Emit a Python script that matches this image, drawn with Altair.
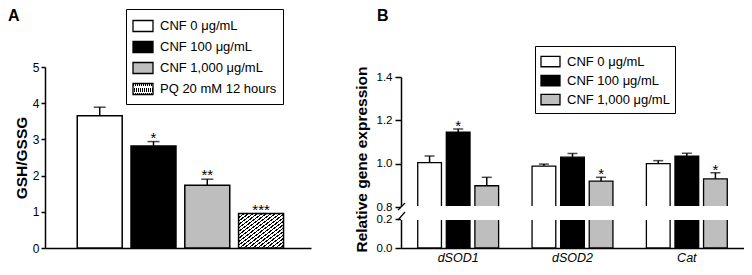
import altair as alt
import pandas as pd

# ---------------- Panel A data ----------------
A_groups = ["CNF 0 μg/mL", "CNF 100 μg/mL", "CNF 1,000 μg/mL", "PQ 20 mM 12 hours"]
A_values = [3.65, 2.82, 1.73, 0.95]
A_errors = [0.24, 0.12, 0.17, 0.0]
A_stars = ["", "*", "**", "***"]
A_yticks = [0, 1, 2, 3, 4, 5]

# ---------------- Panel B data ----------------
B_genes = ["dSOD1", "dSOD2", "Cat"]
B_groups = ["CNF 0 μg/mL", "CNF 100 μg/mL", "CNF 1,000 μg/mL"]
B_dSOD1 = [1.005, 1.145, 0.898]
B_dSOD2 = [0.989, 1.030, 0.919]
B_Cat = [1.000, 1.035, 0.930]
B_dSOD1_err = [0.030, 0.015, 0.039]
B_dSOD2_err = [0.009, 0.017, 0.018]
B_Cat_err = [0.014, 0.013, 0.028]
B_dSOD1_stars = ["", "*", ""]
B_dSOD2_stars = ["", "", "*"]
B_Cat_stars = ["", "", "*"]
B_upper_ticks = [0.8, 1.0, 1.2, 1.4]
B_lower_ticks = [0.0, 0.2]

FONT = "Liberation Sans"
WA, WB, H = 266, 343, 181

# hatch fill (diagonal stripes) as a linear gradient
N = 20
stop_parts = []
for i in range(N):
    a, b, c = i / N, (i + 0.38) / N, (i + 1) / N
    for col, off in (("#000000", a), ("#000000", b), ("#ffffff", b), ("#ffffff", c)):
        stop_parts.append("{offset:%.4f,color:'%s'}" % (off, col))
hatch_expr = "{gradient:'linear',x1:0,y1:0,x2:1,y2:1,stops:[" + ",".join(stop_parts) + "]}"

legend_common = dict(
    title=None, orient="none", symbolType="M-1,-0.55H1V0.55H-1Z",
    symbolStrokeColor="black", symbolStrokeWidth=1.3, symbolOpacity=1,
    labelFont=FONT, labelFontSize=13, labelColor="black", labelOffset=6,
    labelLimit=300, strokeColor="black", fillColor="white",
)

# ---------------- Panel A ----------------
dfA = pd.DataFrame({"group": A_groups, "value": A_values, "err": A_errors, "star": A_stars})
dfA["top"] = dfA["value"] + dfA["err"]

xA = alt.X("group:N", sort=A_groups, title=None,
           scale=alt.Scale(paddingInner=0.164, paddingOuter=0.555, align=0.54),
           axis=alt.Axis(labels=False, ticks=False, domainColor="black", domainWidth=1.5))
yA_scale = alt.Scale(domain=[0, 5])
yA_axis = alt.Axis(values=A_yticks, format="d", title="GSH/GSSG", tickSize=4,
                   labelPadding=2, titlePadding=3, labelFontSize=12,
                   titleFontSize=15.5, titleFontWeight="bold")

fillA = alt.Fill("group:N", sort=A_groups,
                 scale=alt.Scale(domain=A_groups,
                                 range=["#ffffff", "#000000", "#bebebe", {"expr": hatch_expr}]),
                 legend=alt.Legend(legendX=81, legendY=-58, symbolSize=400, padding=6,
                                   rowPadding=1, **legend_common))

baseA = alt.Chart(dfA)
barsA = baseA.mark_bar(stroke="black", strokeWidth=1.5).encode(
    x=xA, y=alt.Y("value:Q", scale=yA_scale, axis=yA_axis), fill=fillA)
errA = baseA.mark_rule(color="black", strokeWidth=1.5).encode(
    x=xA, y=alt.Y("value:Q", scale=yA_scale, axis=yA_axis), y2="top:Q")
capA = baseA.mark_tick(color="black", thickness=1.5, size=12).encode(
    x=xA, y=alt.Y("top:Q", scale=yA_scale, axis=yA_axis))
starA = baseA.mark_text(font=FONT, fontSize=15, baseline="alphabetic", dy=1, color="black").encode(
    x=xA, y=alt.Y("top:Q", scale=yA_scale, axis=yA_axis), text="star:N")
labelA = alt.Chart(pd.DataFrame({"t": ["A"]})).mark_text(
    font=FONT, fontSize=16, fontWeight="bold", align="left", baseline="alphabetic", color="black"
).encode(x=alt.value(-37), y=alt.value(-46), text="t:N")

panelA = alt.layer(barsA, errA, capA, starA, labelA).properties(width=WA, height=H)

# ---------------- Panel B ----------------
rows = []
for gene, vals, errs, stars in zip(B_genes,
                                   [B_dSOD1, B_dSOD2, B_Cat],
                                   [B_dSOD1_err, B_dSOD2_err, B_Cat_err],
                                   [B_dSOD1_stars, B_dSOD2_stars, B_Cat_stars]):
    for g, v, e, s in zip(B_groups, vals, errs, stars):
        rows.append(dict(gene=gene, groupB=g, value=v, err=e, top=v + e, star=s))
dfB = pd.DataFrame(rows)

xB = alt.X("gene:N", sort=B_genes, title=None,
           scale=alt.Scale(paddingInner=0, paddingOuter=0),
           axis=alt.Axis(labelFontStyle="italic", ticks=False, labelPadding=3, labelAngle=0,
                         labelFontSize=12.5, domainColor="black", domainWidth=1.5))
xoB = alt.XOffset("groupB:N", sort=B_groups,
                  scale=alt.Scale(paddingInner=0.17, paddingOuter=0.585))

upS = alt.Scale(domain=[0.8, 1.4], range=[140, 10], clamp=True, zero=False)
loS = alt.Scale(domain=[0.0, 0.2], range=[181, 152], clamp=True)
upAxis = alt.Axis(values=B_upper_ticks, format=".1f", orient="left",
                  title="Relative gene expression", titleY=92, titlePadding=7,
                  tickSize=6, labelPadding=3, labelFontSize=11.5,
                  titleFontSize=15.5, titleFontWeight="bold")
loAxis = alt.Axis(values=B_lower_ticks, format=".1f", orient="left", title=None,
                  tickSize=6, labelPadding=3, labelFontSize=11.5)

fillB = alt.Fill("groupB:N", sort=B_groups,
                 scale=alt.Scale(domain=B_groups, range=["#ffffff", "#000000", "#bebebe"]),
                 legend=alt.Legend(legendX=134, legendY=-21, symbolSize=361, padding=5,
                                   rowPadding=0, **legend_common))

baseB = alt.Chart(dfB)
barsU = baseB.mark_bar(stroke="black", strokeWidth=1.3).encode(
    x=xB, xOffset=xoB, y=alt.Y("value:Q", scale=upS, axis=upAxis),
    y2=alt.Y2(datum=0.8), fill=fillB)
errU = baseB.mark_rule(color="black", strokeWidth=1.5).encode(
    x=xB, xOffset=xoB, y=alt.Y("value:Q", scale=upS, axis=upAxis), y2="top:Q")
capU = baseB.mark_tick(color="black", thickness=1.5, size=10).encode(
    x=xB, xOffset=xoB, y=alt.Y("top:Q", scale=upS, axis=upAxis))
starU = baseB.mark_text(font=FONT, fontSize=15, baseline="alphabetic", dy=2, color="black").encode(
    x=xB, xOffset=xoB, y=alt.Y("top:Q", scale=upS, axis=upAxis), text="star:N")
labelB = alt.Chart(pd.DataFrame({"t": ["B"]})).mark_text(
    font=FONT, fontSize=16, fontWeight="bold", align="left", baseline="alphabetic", color="black"
).encode(x=alt.value(-24), y=alt.value(-46), text="t:N")

upper = alt.layer(barsU, errU, capU, starU, labelB)

barsL = baseB.mark_bar(stroke="black", strokeWidth=1.3).encode(
    x=xB, xOffset=xoB, y=alt.Y("value:Q", scale=loS, axis=loAxis),
    y2=alt.Y2(datum=0.0), fill=fillB)
maskL = alt.Chart(pd.DataFrame({"m": [0]})).mark_rect(color="white").encode(
    x=alt.value(0), x2=alt.value(WB), y=alt.value(139.1), y2=alt.value(152.9))
slash_src = alt.Chart(pd.DataFrame({"m": [0]}))
slashLo = slash_src.mark_rule(color="black", strokeWidth=1.2, yOffset=1, y2Offset=-7).encode(
    x=alt.value(-3), x2=alt.value(4),
    y=alt.Y(datum=0.2, scale=loS, axis=loAxis), y2=alt.Y2(datum=0.2))
slashUp = slash_src.mark_rule(color="black", strokeWidth=1.2, yOffset=-9, y2Offset=-16).encode(
    x=alt.value(-3), x2=alt.value(4),
    y=alt.Y(datum=0.2, scale=loS, axis=loAxis), y2=alt.Y2(datum=0.2))

lower = alt.layer(barsL, maskL, slashLo, slashUp)

panelB = alt.layer(upper, lower).resolve_scale(y="independent").properties(width=WB, height=H)

chart = alt.hconcat(panelA, panelB, spacing=90, bounds="flush").resolve_scale(
    fill="independent"
).configure_view(stroke=None).configure_axis(
    labelFont=FONT, titleFont=FONT, labelColor="black", titleColor="black",
    domainColor="black", tickColor="black", domainWidth=1.5, tickWidth=1.5, grid=False
).properties(background="white", padding=0)

chart.save("out.html", embed_options={"renderer": "svg", "actions": False})
